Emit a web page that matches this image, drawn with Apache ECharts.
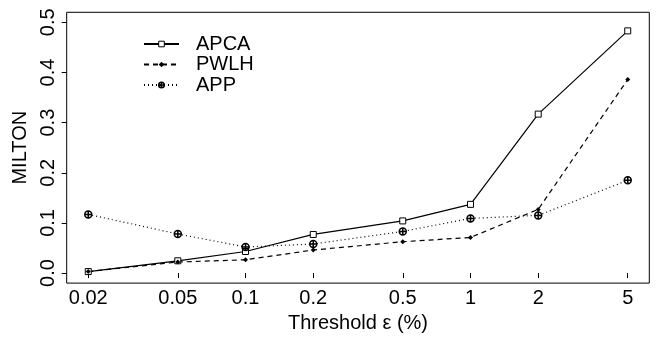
<!DOCTYPE html>
<html>
<head>
<meta charset="utf-8">
<script src="https://cdn.jsdelivr.net/npm/echarts@6/dist/echarts.min.js"></script>
<style>
html,body{margin:0;padding:0;background:#fff;}
#c{width:664px;height:338px;}
</style>
</head>
<body>
<div id="c"></div>
<script>
var thresholds = [0.02, 0.05, 0.1, 0.2, 0.5, 1, 2, 5];
var apca = [0.003, 0.0245, 0.043, 0.077, 0.104, 0.137, 0.317, 0.483];
var pwlh = [0.003, 0.022, 0.0265, 0.046, 0.0625, 0.071, 0.127, 0.386];
var app  = [0.117, 0.078, 0.052, 0.058, 0.083, 0.109, 0.115, 0.185];
var xTicks = [0.02, 0.05, 0.1, 0.2, 0.5, 1, 2, 5];
var yTicks = [0, 0.1, 0.2, 0.3, 0.4, 0.5];
var seriesNames = ['APCA', 'PWLH', 'APP'];
var xTitle = 'Threshold \u03b5 (%)';
var yTitle = 'MILTON';

function pairs(ys) { return thresholds.map(function (x, i) { return [x, ys[i]]; }); }

var FONT = 'Liberation Sans, Arial, sans-serif';
var chart = echarts.init(document.getElementById('c'), null, {renderer: 'canvas'});
var plusCircle = 'path://M0,5A5,5 0 1,1 10,5A5,5 0 1,1 0,5Z M5,0L5,10 M0,5L10,5';
var square = 'path://M0,0L10,0L10,10L0,10Z';
var squareStyle = {color: '#fff', borderColor: '#000', borderWidth: 1};
var plusStyle = {color: 'rgba(0,0,0,0)', borderColor: '#000', borderWidth: 1.5};

chart.setOption({
  animation: false,
  backgroundColor: '#fff',
  textStyle: {fontFamily: FONT, color: '#000'},
  grid: {left: 66.7, right: 14.7, top: 12.3, bottom: 46.7, show: true, borderColor: '#000', borderWidth: 1, backgroundColor: 'transparent'},
  legend: {
    left: 143, top: 34, padding: 0, orient: 'vertical', itemGap: 0.5, itemWidth: 35, itemHeight: 7,
    textStyle: {fontSize: 20, fontFamily: FONT, color: '#000', lineHeight: 20, padding: [0, 0, 0, 12]},
    data: [
      {name: seriesNames[0], itemStyle: squareStyle},
      {name: seriesNames[1]},
      {name: seriesNames[2], itemStyle: plusStyle}
    ]
  },
  xAxis: {
    type: 'log', logBase: 10, min: 0.016038, max: 6.235,
    name: xTitle, nameLocation: 'middle', nameGap: 25,
    nameTextStyle: {fontSize: 20, fontFamily: FONT, color: '#000'},
    axisLine: {show: false},
    axisTick: {show: true, length: 5, lineStyle: {color: '#000'}, customValues: xTicks},
    minorTick: {show: false},
    splitLine: {show: false},
    axisLabel: {fontSize: 20, color: '#000', fontFamily: FONT, margin: 5, customValues: xTicks,
      formatter: function (v) { return String(Number(Number(v).toPrecision(3))); }}
  },
  yAxis: {
    type: 'value', min: -0.02, max: 0.52,
    name: yTitle, nameLocation: 'middle', nameGap: 33, nameRotate: 90,
    nameTextStyle: {fontSize: 20, fontFamily: FONT, color: '#000'},
    axisLine: {show: false},
    axisTick: {show: true, length: 5, lineStyle: {color: '#000'}, customValues: yTicks},
    splitLine: {show: false},
    axisLabel: {fontSize: 20, color: '#000', fontFamily: FONT, rotate: 90, margin: 8, customValues: yTicks,
      formatter: function (v) { return Number(v).toFixed(1); }}
  },
  series: [
    {name: seriesNames[0], type: 'line', data: pairs(apca), symbol: square, symbolSize: 6,
      lineStyle: {color: '#000', width: 1.2, type: 'solid'},
      itemStyle: squareStyle},
    {name: seriesNames[1], type: 'line', data: pairs(pwlh), symbol: 'diamond', symbolSize: 5,
      lineStyle: {color: '#000', width: 1.2, type: [5, 4]},
      itemStyle: {color: '#000'}},
    {name: seriesNames[2], type: 'line', data: pairs(app), symbol: plusCircle, symbolSize: 7,
      lineStyle: {color: '#000', width: 1.2, type: [1, 3]},
      itemStyle: plusStyle}
  ]
});
</script>
</body>
</html>
